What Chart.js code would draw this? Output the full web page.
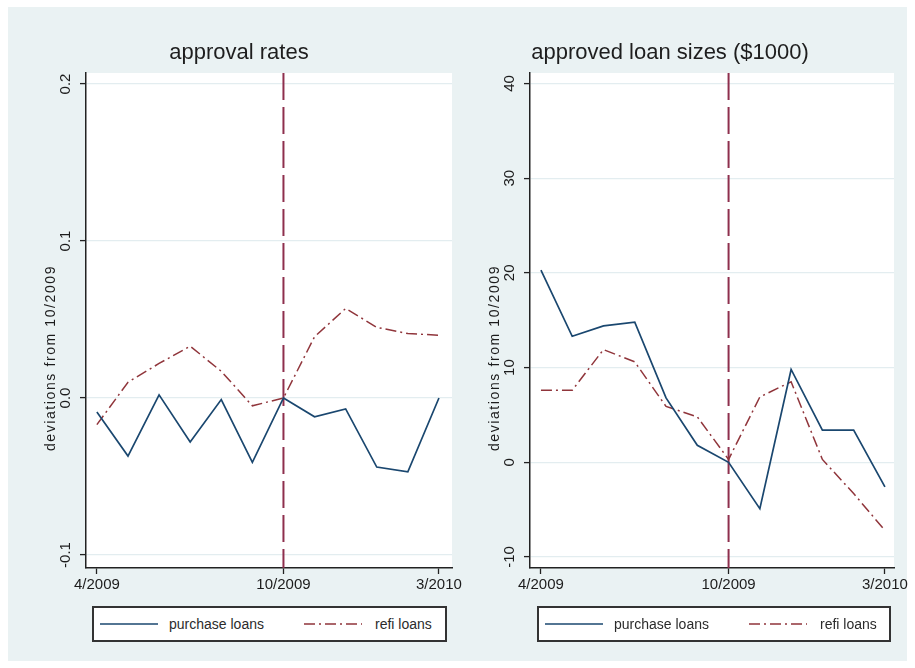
<!DOCTYPE html>
<html>
<head>
<meta charset="utf-8">
<script src="https://cdn.jsdelivr.net/npm/chart.js@4.4.0/dist/chart.umd.min.js"></script>
<style>
body { margin: 0; width: 915px; height: 668px; overflow: hidden; position: relative; background: #fff; font-family: 'Liberation Sans', Arial, sans-serif; }
#bg { position: absolute; left: 8px; top: 7px; width: 899px; height: 654px; background: #eaf2f3; }
canvas { position: absolute; top: 0; }
.legend { position: absolute; top: 606px; height: 32px; background: #fff; border: 2px solid #333; }
.legend svg { position: absolute; top: 0; }
.legend span { position: absolute; top: 8px; font-size: 14px; color: #2b2b2b; white-space: nowrap; }
</style>
</head>
<body>
<div id="bg"></div>
<canvas id="left" width="470" height="668" style="left:0;width:470px;height:668px"></canvas>
<canvas id="right" width="475" height="668" style="left:440px;width:475px;height:668px"></canvas>
<div class="legend" id="legLeft" style="left:92px;width:351px"></div>
<div class="legend" id="legRight" style="left:537px;width:350px"></div>

<script>
// months 4/2009 .. 3/2010
const months = ['4/2009', '5/2009', '6/2009', '7/2009', '8/2009', '9/2009',
                '10/2009', '11/2009', '12/2009', '1/2010', '2/2010', '3/2010'];
const xTickIdx = [0, 6, 11];
const eventIdx = 6;

const seriesNames = ['purchase loans', 'refi loans'];

// approval rates, deviations from 10/2009
const approvalPurchase = [-0.009, -0.037, 0.002, -0.028, -0.001, -0.041, 0, -0.012, -0.007, -0.044, -0.047, 0];
const approvalRefi = [-0.017, 0.010, 0.022, 0.033, 0.017, -0.005, 0, 0.039, 0.057, 0.045, 0.041, 0.040];
const approvalTicks = [-0.1, 0, 0.1, 0.2];

// approved loan sizes ($1000), deviations from 10/2009
const sizePurchase = [20.3, 13.3, 14.4, 14.8, 6.8, 1.8, 0, -4.9, 9.8, 3.4, 3.4, -2.6];
const sizeRefi = [7.6, 7.6, 11.9, 10.6, 5.9, 4.8, 0.3, 6.9, 8.5, 0.3, -3.3, -7.2];
const sizeTicks = [-10, 0, 10, 20, 30, 40];

const blue = '#1a476f';
const red = '#90353b';
const refiDash = [11, 4, 2, 4];

const toPoints = arr => arr.map((v, i) => ({ x: i, y: v }));

// white plot region, event line, rotated y labels and y title
const panelDecor = {
    id: 'panelDecor',
    beforeDraw(chart) {
        const { ctx, chartArea: a } = chart;
        ctx.save();
        ctx.fillStyle = '#fff';
        ctx.fillRect(a.left, a.top, a.right - a.left, a.bottom - a.top);
        ctx.restore();
    },
    beforeDatasetsDraw(chart, args, opts) {
        const { ctx, chartArea: a } = chart;
        const x = chart.scales.x.getPixelForValue(opts.eventIdx);
        ctx.save();
        ctx.strokeStyle = '#8e2f4d';
        ctx.lineWidth = 2;
        ctx.setLineDash([27, 7]);
        ctx.beginPath();
        ctx.moveTo(x, a.top);
        ctx.lineTo(x, a.bottom);
        ctx.stroke();
        ctx.restore();
    },
    afterDraw(chart, args, opts) {
        const { ctx } = chart;
        const ys = chart.scales.y;
        ctx.save();
        ctx.fillStyle = '#1c1c1c';
        ctx.textAlign = 'center';
        ctx.textBaseline = 'middle';
        ctx.font = '15px "Liberation Sans", Arial, sans-serif';
        ys.ticks.forEach(t => {
            ctx.save();
            ctx.translate(opts.labelX, ys.getPixelForValue(t.value));
            ctx.rotate(-Math.PI / 2);
            ctx.fillText(t.label, 0, 0);
            ctx.restore();
        });
        ctx.font = '14px "Liberation Sans", Arial, sans-serif';
        ctx.letterSpacing = '1.6px';
        ctx.translate(opts.titleX, opts.titleY);
        ctx.rotate(-Math.PI / 2);
        ctx.fillText('deviations from 10/2009', 0, 0);
        ctx.restore();
    }
};

function makePanel(id, title, purchase, refi, yTicks, yMin, yMax, xMax, fmt, lay) {
    return new Chart(document.getElementById(id), {
        type: 'line',
        data: {
            datasets: [{
                label: seriesNames[0],
                data: toPoints(purchase),
                borderColor: blue,
                borderWidth: 1.7,
                pointRadius: 0,
                tension: 0
            }, {
                label: seriesNames[1],
                data: toPoints(refi),
                borderColor: red,
                borderWidth: 1.5,
                borderDash: refiDash,
                pointRadius: 0,
                tension: 0
            }]
        },
        options: {
            responsive: false,
            animation: false,
            layout: { autoPadding: false, padding: { left: lay.padLeft, right: lay.padRight, top: 0, bottom: 0 } },
            plugins: {
                legend: { display: false },
                tooltip: { enabled: false },
                title: {
                    display: true,
                    text: title,
                    color: '#1e1e1e',
                    font: { size: 22, family: '"Liberation Sans", Arial, sans-serif', weight: 'normal', lineHeight: 1.2 },
                    padding: { top: 39.8, bottom: 6.8 }
                },
                panelDecor: { eventIdx: eventIdx, labelX: lay.labelX, titleX: lay.titleX, titleY: 358 }
            },
            scales: {
                x: {
                    type: 'linear',
                    min: -0.35,
                    max: xMax,
                    afterFit: s => { s.height = 100; },
                    afterBuildTicks: s => { s.ticks = xTickIdx.map(v => ({ value: v })); },
                    ticks: {
                        callback: v => months[v],
                        color: '#1c1c1c',
                        padding: 2,
                        maxRotation: 0,
                        font: { size: 15, family: '"Liberation Sans", Arial, sans-serif' }
                    },
                    grid: { drawOnChartArea: false, tickLength: 6, tickColor: '#222', tickWidth: 1.3 },
                    border: { color: '#222', width: 1.5 }
                },
                y: {
                    min: yMin,
                    max: yMax,
                    afterFit: s => { s.width = lay.yWidth; },
                    afterBuildTicks: s => { s.ticks = yTicks.map(v => ({ value: v })); },
                    ticks: { display: false, callback: fmt },
                    grid: { color: '#e3edf0', lineWidth: 1.2, tickLength: 6, tickColor: '#222', tickWidth: 1.3 },
                    border: { color: '#222', width: 1.5 }
                }
            }
        },
        plugins: [panelDecor]
    });
}

makePanel('left', 'approval rates', approvalPurchase, approvalRefi, approvalTicks,
    -0.1083, 0.207, 11.42, v => v.toFixed(1),
    { padLeft: 26, padRight: 18, yWidth: 60, labelX: 66, titleX: 51 });

makePanel('right', 'approved loan sizes ($1000)', sizePurchase, sizeRefi, sizeTicks,
    -11.16, 41.1, 11.29, v => String(v),
    { padLeft: 6, padRight: 21, yWidth: 84, labelX: 70, titleX: 55 });

// legends
function buildLegend(id) {
    const box = document.getElementById(id);
    const items = [
        { name: seriesNames[0], color: blue, dash: '', x: 6, tx: 75 },
        { name: seriesNames[1], color: red, dash: refiDash.join(' '), x: 210, tx: 281 }
    ];
    items.forEach(it => {
        const svg = document.createElementNS('http://www.w3.org/2000/svg', 'svg');
        svg.setAttribute('width', '60');
        svg.setAttribute('height', '32');
        svg.style.left = it.x + 'px';
        const ln = document.createElementNS('http://www.w3.org/2000/svg', 'line');
        ln.setAttribute('x1', '0'); ln.setAttribute('x2', '58');
        ln.setAttribute('y1', '16'); ln.setAttribute('y2', '16');
        ln.setAttribute('stroke', it.color);
        ln.setAttribute('stroke-width', '1.6');
        if (it.dash) ln.setAttribute('stroke-dasharray', it.dash);
        svg.appendChild(ln);
        box.appendChild(svg);
        const sp = document.createElement('span');
        sp.textContent = it.name;
        sp.style.left = it.tx + 'px';
        box.appendChild(sp);
    });
}
buildLegend('legLeft');
buildLegend('legRight');
</script>
</body>
</html>
